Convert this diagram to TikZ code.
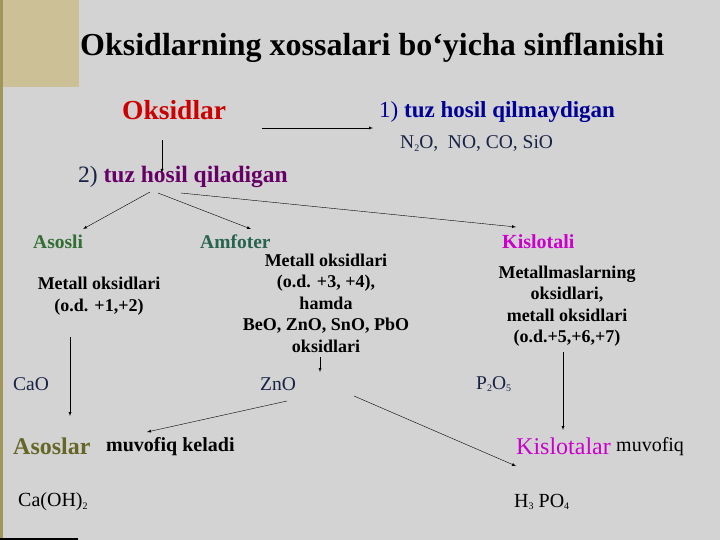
\documentclass[tikz,border=0pt]{standalone}
\usepackage{fontspec}
\setmainfont{Liberation Serif}
\definecolor{slidebg}{RGB}{211,211,211}
\definecolor{tanbox}{RGB}{204,192,150}
\definecolor{edgeline}{RGB}{160,150,90}
\definecolor{oxred}{RGB}{204,0,0}
\definecolor{oxnavy}{RGB}{0,0,150}
\definecolor{oxpurple}{RGB}{102,0,102}
\definecolor{oxgreen}{RGB}{51,110,51}
\definecolor{oxteal}{RGB}{40,100,80}
\definecolor{oxmagenta}{RGB}{204,0,204}
\definecolor{oxolive}{RGB}{102,102,40}
\definecolor{formula}{RGB}{25,35,70}
\newcommand{\chsub}[1]{\raisebox{-0.25ex}{\fontsize{10}{10}\selectfont #1}}
\begin{document}
\begin{tikzpicture}[x=1pt, y=-1pt,
    lbl/.style = {inner sep=0pt, anchor=west},
    info/.style = {inner sep=0pt, align=center, font=\fontsize{18}{21.5}\selectfont\bfseries},
    frm/.style = {inner sep=0pt, anchor=west, text=formula, font=\fontsize{19.5}{19.5}\selectfont},
    arr/.style = {-latex, thin}]
    % slide background
    \fill[slidebg] (0,0) rectangle (720,540);
    \useasboundingbox (0,0) rectangle (720,540);
    \fill[tanbox] (0,0) rectangle (79,87);
    \fill[edgeline] (0,0) rectangle (3,540);
    \draw[black, line width=1.2pt] (0,539) -- (78,539);

    % title
    \node[lbl, font=\fontsize{32}{32}\selectfont\bfseries] (title) at (80,48)
        {Oksidlarning xossalari bo‘yicha sinflanishi};

    % top level
    \node[lbl, text=oxred, font=\fontsize{27.5}{27.5}\selectfont\bfseries] (oksid) at (122,110) {Oksidlar};
    \node[lbl, text=oxnavy, font=\fontsize{23}{23}\selectfont] (nosalt) at (379,112)
        {1) \textbf{tuz hosil qilmaydigan}};
    \node[frm] (nosaltex) at (400,144)
        {N\chsub{2}O,\ \ NO, CO, SiO};
    \node[lbl, font=\fontsize{23.5}{23.5}\selectfont] (salt) at (78,177)
        {\textcolor{formula}{2)} \textcolor{oxpurple}{\textbf{tuz hosil qiladigan}}};

    \coordinate (hstart) at (262,128);
    \coordinate (hend) at (373,128);
    \draw[arr] (hstart) -- (hend);
    \coordinate (vstart) at (162,140);
    \coordinate (vend) at (162,173);
    \draw[arr] (vstart) -- (vend);

    % three groups
    \node[lbl, text=oxgreen, font=\fontsize{19.5}{19.5}\selectfont\bfseries] (asosli) at (33,242) {Asosli};
    \node[lbl, text=oxteal, font=\fontsize{19.5}{19.5}\selectfont\bfseries] (amfoter) at (200,242) {Amfoter};
    \node[lbl, text=oxmagenta, font=\fontsize{20}{20}\selectfont\bfseries] (kislotali) at (502,242) {Kislotali};

    \coordinate (s1) at (150,192);
    \coordinate (s2) at (158,193);
    \coordinate (s3) at (181,193);
    \coordinate (t1) at (83,229);
    \coordinate (t2) at (251,229);
    \coordinate (t3) at (516,227);
    \draw[arr] (s1) -- (t1);
    \draw[arr] (s2) -- (t2);
    \draw[arr] (s3) -- (t3);

    \node[info] (asinfo) at (99,296) {Metall oksidlari\\(o.d. +1,+2)};
    \node[info] (aminfo) at (326,303)
        {Metall oksidlari\\(o.d. +3, +4),\\hamda\\BeO, ZnO, SnO, PbO\\oksidlari};
    \node[info] (kinfo) at (567,306)
        {Metallmaslarning\\oksidlari,\\metall oksidlari\\(o.d.+5,+6,+7)};

    % examples
    \node[frm] (cao) at (13,384) {CaO};
    \node[frm] (zno) at (260,384) {ZnO};
    \node[frm] (p2o5) at (476,384) {P\chsub{2}O\chsub{5}};

    \coordinate (a1) at (70,337);
    \coordinate (a2) at (70,416);
    \draw[arr] (a1) -- (a2);
    \coordinate (z1) at (320,357);
    \coordinate (z2) at (320,372);
    \draw[arr] (z1) -- (z2);
    \coordinate (k1) at (563,352);
    \coordinate (k2) at (563,430);
    \draw[arr] (k1) -- (k2);
    \coordinate (zl) at (287,401);
    \coordinate (zlend) at (147,432);
    \draw[arr] (zl) -- (zlend);
    \coordinate (zr) at (354,396);
    \coordinate (zrend) at (516,466);
    \draw[arr] (zr) -- (zrend);

    % results
    \node[lbl, text=oxolive, font=\fontsize{24}{24}\selectfont\bfseries] (asoslar) at (13,446) {Asoslar};
    \node[lbl, font=\fontsize{20}{20}\selectfont\bfseries] (asmuv) at (106,447) {muvofiq keladi};
    \node[lbl, text=oxmagenta, font=\fontsize{24}{24}\selectfont] (kislotalar) at (516,446) {Kislotalar};
    \node[lbl, font=\fontsize{20}{20}\selectfont] (kmuv) at (616,447) {muvofiq};

    \node[lbl, font=\fontsize{20}{20}\selectfont] (caoh) at (18,502) {Ca(OH)\chsub{2}};
    \node[lbl, font=\fontsize{20}{20}\selectfont] (h3po4) at (514,502) {H\chsub{3} PO\chsub{4}};
\end{tikzpicture}
\end{document}
